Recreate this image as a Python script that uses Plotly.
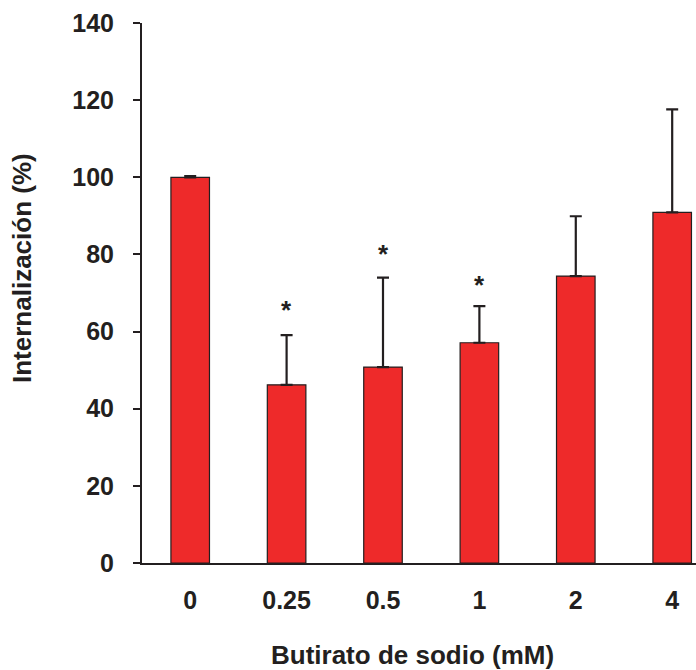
import plotly.graph_objects as go

categories = ["0", "0.25", "0.5", "1", "2", "4"]
values = [100.0, 46.2, 50.8, 57.1, 74.4, 90.9]
err_upper = [0.3, 12.9, 23.2, 9.5, 15.5, 26.7]
star_cats = ["0.25", "0.5", "1"]
star_y = [67.2, 81.7, 73.6]
y_ticks = [0, 20, 40, 60, 80, 100, 120, 140]

DARK = "#231f20"
RED = "#ee2a2a"
FONT = "Liberation Sans, Arial, sans-serif"
TICK_SIZE = 25
TITLE_SIZE = 26

W, H = 696, 670
ML, MR, MT, MB = 142, 0, 23, 107

fig = go.Figure()
fig.add_trace(go.Bar(
    x=list(range(len(categories))), y=values, width=0.4,
    marker=dict(color=RED, line=dict(color=DARK, width=1.2)),
    error_y=dict(type="data", symmetric=False, array=err_upper,
                 arrayminus=[0] * len(values), color=DARK,
                 thickness=2.2, width=6),
))

for c, yv in zip(star_cats, star_y):
    fig.add_annotation(x=categories.index(c), y=yv, text="<b>*</b>",
                       showarrow=False,
                       font=dict(family=FONT, size=26, color=DARK),
                       yshift=-6)

pw = W - ML - MR
ph = H - MT - MB
# x title
fig.add_annotation(xref="paper", yref="paper",
                   x=(412 - ML) / pw, y=-(655 - MT - ph) / ph,
                   text="<b>Butirato de sodio (mM)</b>", showarrow=False,
                   xanchor="center", yanchor="middle",
                   font=dict(size=TITLE_SIZE, family=FONT, color=DARK))
# y title
fig.add_annotation(xref="paper", yref="paper",
                   x=(22 - ML) / pw, y=1 - (268 - MT) / ph,
                   text="<b>Internalización (%)</b>", showarrow=False,
                   textangle=-90, xanchor="center", yanchor="middle",
                   font=dict(size=TITLE_SIZE, family=FONT, color=DARK))

fig.update_layout(
    width=W, height=H,
    margin=dict(l=ML, r=MR, t=MT, b=MB),
    paper_bgcolor="white", plot_bgcolor="white",
    showlegend=False,
    font=dict(family=FONT, color=DARK),
    xaxis=dict(
        range=[-0.5, 5.247],
        tickvals=list(range(len(categories))),
        ticktext=[f"<b>{c}</b>" for c in categories],
        showline=True, linecolor=DARK, linewidth=2,
        ticks="", showgrid=False, zeroline=False,
        tickfont=dict(size=TICK_SIZE, family=FONT, color=DARK),
        ticklabelstandoff=14,
    ),
    yaxis=dict(
        range=[0, 140], tickvals=y_ticks,
        ticktext=[f"<b>{t}</b>" for t in y_ticks],
        showline=True, linecolor=DARK, linewidth=2,
        ticks="outside", ticklen=7, tickwidth=2, tickcolor=DARK,
        showgrid=False, zeroline=False,
        tickfont=dict(size=TICK_SIZE, family=FONT, color=DARK),
        ticklabelstandoff=14,
    ),
)

fig.write_html("out.html")
